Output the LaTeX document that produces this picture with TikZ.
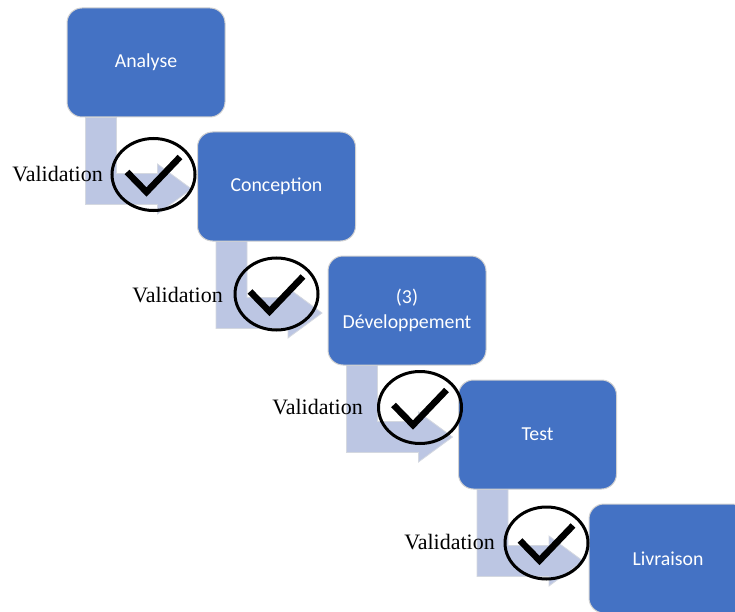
\documentclass[tikz,border=0pt]{standalone}
\usepackage{fontspec}
\setmainfont{Liberation Serif}
\newfontfamily\boxfont{Carlito}
\usetikzlibrary{shapes.geometric,backgrounds,calc}
\definecolor{stepblue}{HTML}{4472C4}
\definecolor{flowfill}{HTML}{BCC6E3}
\definecolor{flowedge}{HTML}{D4D8E0}
\begin{document}
\begin{tikzpicture}[x=1pt,y=-1pt,
  stepbox/.style={draw=white!82!black, line width=1pt, fill=stepblue,
    rounded corners=15pt, minimum width=158pt, minimum height=109pt,
    inner sep=0pt, text=white, align=center,
    font=\boxfont\fontsize{19.8}{25}\selectfont},
  flowarrow/.style={fill=flowfill, draw=flowedge, line width=0.8pt},
  okring/.style={ellipse, draw=black, line width=3pt, minimum width=83pt,
    minimum height=72pt, inner sep=0pt},
  okmark/.style={draw=black, line width=6.5pt, line join=miter},
  vlabel/.style={inner sep=0pt, anchor=base east,
    font=\fontsize{22}{26}\selectfont}]
\useasboundingbox (0,0) rectangle (735,612);
\clip (0,0) rectangle (735,612);

% the five phases
\node[stepbox] (b0) at (146,62.5)   {Analyse};
\node[stepbox] (b1) at (276.5,186.5) {Conception};
\node[stepbox] (b2) at (407,310.5)  {(3)\\Développement};
\node[stepbox] (b3) at (537.5,434.5) {Test};
\node[stepbox] (b4) at (668,558.5)  {Livraison};

% bent arrows leading from each phase to the next
\begin{pgfonlayer}{background}
\foreach \s in {b0,b1,b2,b3}{
  \draw[flowarrow, shift={(\s.south west)}]
    (19,0) -- (50,0) -- (50,56) -- (91,56) -- (91,46.5) -- (125,71.5)
    -- (91,96.5) -- (91,87) -- (19,87) -- cycle;
}
\end{pgfonlayer}

% validation checkpoints
\node[okring] (v0) at (153.5,174.5) {};
\node[okring] (v1) at (276.5,294)   {};
\node[okring] (v2) at (420,407.5)   {};
\node[okring] (v3) at (546.5,543)   {};
\foreach \v in {v0,v1,v2,v3}{
  \draw[okmark, shift={(\v.center)}] (-26.5,-2.5) -- (-7,17.5) -- (26.5,-17.5);
}

\node[vlabel] (l0) at (103,182) {Validation};
\node[vlabel] (l1) at (223,302) {Validation};
\node[vlabel] (l2) at (363,414) {Validation};
\node[vlabel] (l3) at (495,549) {Validation};
\end{tikzpicture}
\end{document}
